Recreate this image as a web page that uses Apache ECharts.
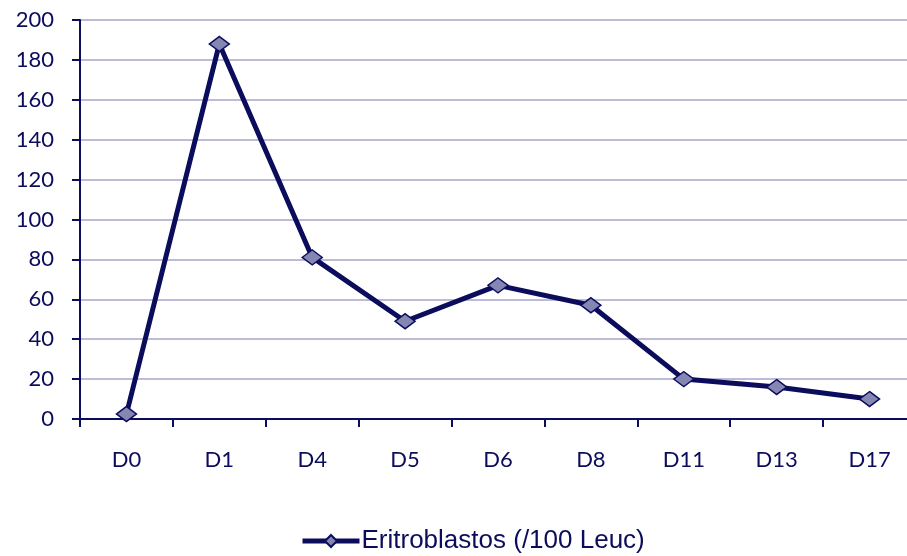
<!DOCTYPE html>
<html>
<head>
<meta charset="utf-8">
<script src="https://cdn.jsdelivr.net/npm/echarts@6/dist/echarts.min.js"></script>
<style>html,body{margin:0;padding:0;background:#fff;}#c{width:907px;height:556px;}</style>
</head>
<body>
<div id="c"></div>
<script>
const categories = ['D0','D1','D4','D5','D6','D8','D11','D13','D17'];
const values = [2.5, 188, 81, 49, 67, 57, 20, 16, 10];
const seriesName = 'Eritroblastos (/100 Leuc)';
const yTicks = {min: 0, max: 200, interval: 20};

const navy = '#0c0c5c';
const chart = echarts.init(document.getElementById('c'));
chart.setOption({
  animation: false,
  grid: {left: 80, width: 836, top: 20, height: 399, containLabel: false, outerBoundsMode: 'none'},
  legend: {
    top: 528, left: 300, padding: 0,
    data: [seriesName],
    itemWidth: 57, itemHeight: 15, itemGap: 4,
    lineStyle: {width: 5},
    textStyle: {fontFamily: 'Liberation Sans', fontSize: 26, color: navy, padding: [0,0,0,-3]}
  },
  xAxis: {
    type: 'category', data: categories, boundaryGap: true,
    axisLine: {lineStyle: {color: navy, width: 2}},
    axisTick: {show: true, length: 8, lineStyle: {color: navy, width: 2}},
    axisLabel: {fontFamily: 'Lato', fontSize: 22, color: navy, margin: 30},
    splitLine: {show: false}
  },
  yAxis: {
    type: 'value', min: yTicks.min, max: yTicks.max, interval: yTicks.interval,
    axisLine: {show: true, lineStyle: {color: navy, width: 2}},
    axisTick: {show: true, length: 8, lineStyle: {color: navy, width: 2}},
    axisLabel: {fontFamily: 'Lato', fontSize: 22, color: navy, margin: 26},
    splitLine: {show: true, lineStyle: {color: '#bcbcda', width: 2}}
  },
  series: [{
    name: seriesName,
    type: 'line',
    data: values,
    symbol: 'diamond',
    symbolSize: [20, 15],
    lineStyle: {color: navy, width: 5},
    itemStyle: {color: '#8587b3', borderColor: navy, borderWidth: 1.5}
  }]
});
</script>
</body>
</html>
